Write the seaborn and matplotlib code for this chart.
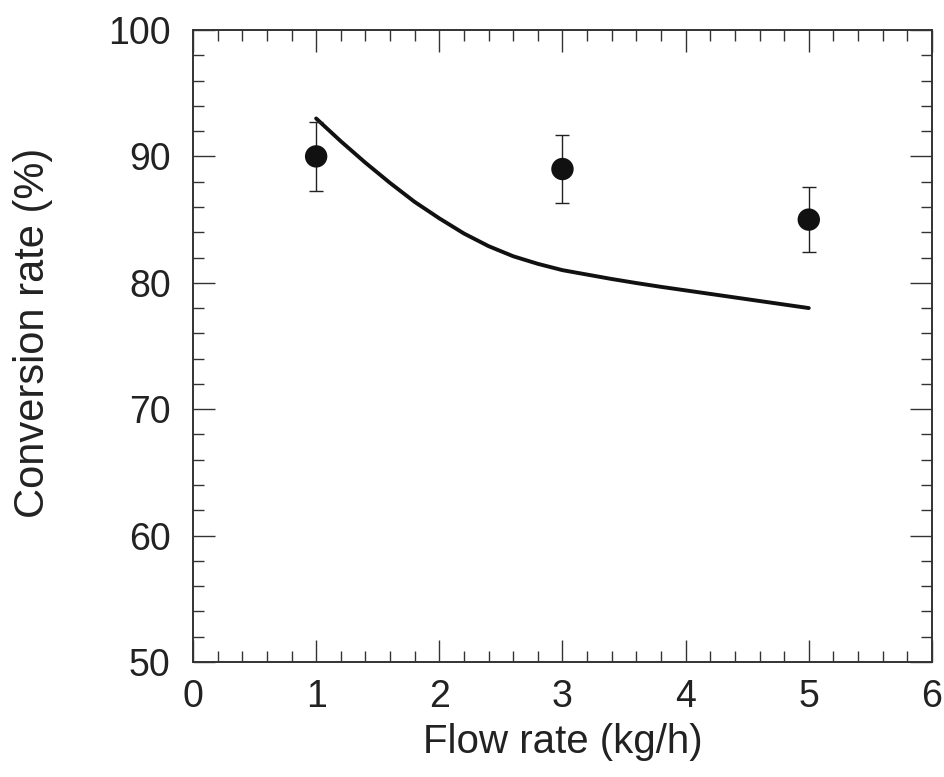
import matplotlib
matplotlib.use("Agg")
import matplotlib.pyplot as plt
import seaborn as sns
import pandas as pd
from matplotlib.ticker import MultipleLocator

# measured points
flow_rate = [1, 3, 5]
conversion = [90.0, 89.0, 85.0]
conversion_err = [2.7, 2.7, 2.6]

# model curve
curve_flow = [1.0, 1.2, 1.4, 1.6, 1.8, 2.0, 2.2, 2.4, 2.6, 2.8, 3.0,
              3.2, 3.4, 3.6, 3.8, 4.0, 4.25, 4.5, 4.75, 5.0]
curve_conv = [93.0, 91.2, 89.5, 87.9, 86.4, 85.1, 83.9, 82.9, 82.1, 81.5, 81.0,
              80.65, 80.3, 79.98, 79.68, 79.4, 79.05, 78.7, 78.35, 78.0]

df_pts = pd.DataFrame({"flow": flow_rate, "conv": conversion, "err": conversion_err})
df_curve = pd.DataFrame({"flow": curve_flow, "conv": curve_conv})

sns.set_style("ticks")
plt.rcParams["font.family"] = ["Liberation Sans", "DejaVu Sans"]

fig = plt.figure(figsize=(9.45, 7.77), dpi=100)
ax = fig.add_axes([0.2042, 0.148, 0.782, 0.8134])

sns.lineplot(data=df_curve, x="flow", y="conv", color="#111111", linewidth=2.8, ax=ax)

ax.errorbar(df_pts["flow"], df_pts["conv"], yerr=df_pts["err"], fmt="none",
            ecolor="#222222", elinewidth=1.0, capsize=5, capthick=1.0)
sns.scatterplot(data=df_pts, x="flow", y="conv", color="#111111", s=260,
                edgecolor="none", ax=ax, zorder=3)

ax.set_xlim(0, 6)
ax.set_ylim(50, 100)
ax.xaxis.set_major_locator(MultipleLocator(1))
ax.xaxis.set_minor_locator(MultipleLocator(0.2))
ax.yaxis.set_major_locator(MultipleLocator(10))
ax.yaxis.set_minor_locator(MultipleLocator(2))

ax.tick_params(which="both", direction="in", top=True, right=True, colors="#333333",
               labelcolor="#222222", labelsize=27, width=1.0)
ax.tick_params(which="major", length=16)
ax.tick_params(axis="x", which="major", pad=12)
ax.tick_params(axis="y", which="major", pad=16)
ax.tick_params(which="minor", length=8)

for s in ax.spines.values():
    s.set_linewidth(1.4)
    s.set_color("#333333")

ax.set_xlabel("Flow rate (kg/h)", fontsize=29, color="#222222")
ax.set_ylabel("Conversion rate (%)", fontsize=30, color="#222222")
ax.xaxis.set_label_coords(0.5, -0.097)
ax.yaxis.set_label_coords(-0.19, 0.52)

fig.savefig("out.png", dpi=100)
